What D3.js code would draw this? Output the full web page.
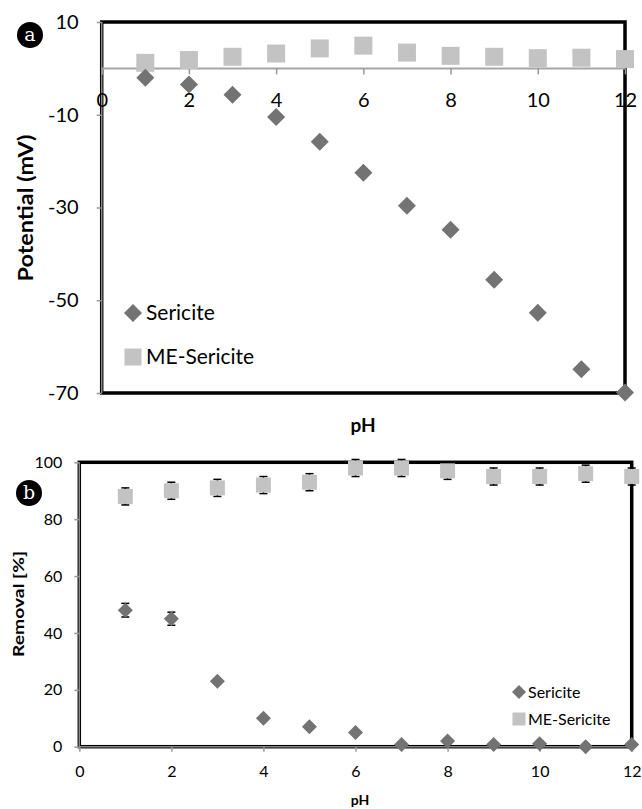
<!DOCTYPE html>
<html lang="en">
<head>
<meta charset="UTF-8">
<title>Zeta potential and removal vs pH</title>
<script src="https://d3js.org/d3.v7.min.js"></script>
<style>
  body { margin: 0; background: #fff; }
  svg text { font-family: Lato, "Open Sans", sans-serif; fill: #000; }
</style>
</head>
<body>
<div id="chart"></div>
<script>
// pH values shared by both panels
var phValues = [1, 2, 3, 4, 5, 6, 7, 8, 9, 10, 11, 12];

// panel a: zeta potential (mV)
var potSericite   = [-2, -3.5, -5.7, -10.5, -15.8, -22.5, -29.6, -34.8, -45.6, -52.7, -64.9, -69.9];
var potMeSericite = [1.2, 1.8, 2.5, 3.2, 4.3, 4.9, 3.4, 2.7, 2.5, 2.2, 2.3, 2.0];
var potYTicks = [10, -10, -30, -50, -70];

// panel b: removal (%) with error bars
var remSericite      = [48, 45, 23, 10, 7, 5, 0.8, 2, 0.8, 1, 0, 0.8];
var remSericiteErr   = [2.4, 2.3, 0, 0, 0, 0, 0, 0, 0, 0, 0, 0];
var remMeSericite    = [88, 90, 91, 92, 93, 98, 98, 97, 95, 95, 96, 95];
var remMeSericiteErr = [3, 3, 3, 3, 3, 3, 3, 3, 3, 3, 3, 3];
var remYTicks = [0, 20, 40, 60, 80, 100];

var xTicks = [0, 2, 4, 6, 8, 10, 12];
var seriesNames = ["Sericite", "ME-Sericite"];
var diamondColor = "#737373";
var squareColor = "#c3c3c3";

var svg = d3.select("#chart").append("svg")
    .attr("width", 642)
    .attr("height", 809);

function diamond(size) {
    return d3.symbol().type(d3.symbolSquare).size(size * size / 2)();
}
function square(size) {
    return d3.symbol().type(d3.symbolSquare).size(size * size)();
}

function badge(cx, cy, letter) {
    svg.append("circle").attr("cx", cx).attr("cy", cy).attr("r", 13).attr("fill", "#000");
    svg.append("text").attr("x", cx).attr("y", cy + 6)
        .attr("text-anchor", "middle")
        .style("font-family", "'DejaVu Serif', serif")
        .style("font-size", "19px")
        .style("fill", "#fff")
        .text(letter);
}

function styleAxis(g, fontSize) {
    g.select(".domain").remove();
    g.selectAll(".tick line").attr("stroke", "#999").attr("stroke-width", 1.5);
    g.selectAll(".tick text").style("font-size", fontSize + "px");
}

// plain hyphen for negatives, like the original
var plain = function(d) { return String(d); };

// ---------------- panel a ----------------
(function() {
    var x = d3.scaleLinear().domain([0, 12]).range([101.7, 625]);
    var y = d3.scaleLinear().domain([-70, 10]).range([393, 22]);
    var g = svg.append("g");

    // frame
    g.append("rect")
        .attr("x", x(0)).attr("y", y(10))
        .attr("width", x(12) - x(0)).attr("height", y(-70) - y(10))
        .attr("fill", "none").attr("stroke", "#000").attr("stroke-width", 3.5);
    g.append("line")
        .attr("x1", x(0)).attr("x2", x(0)).attr("y1", y(10)).attr("y2", y(-70))
        .attr("stroke", "#888").attr("stroke-width", 1.5);

    // y axis
    var ya = g.append("g").attr("transform", "translate(" + x(0) + ",0)")
        .call(d3.axisLeft(y).tickValues(potYTicks).tickFormat(plain).tickSize(5).tickPadding(18));
    styleAxis(ya, 20);

    // x axis at zero
    g.append("line")
        .attr("x1", x(0)).attr("x2", x(12)).attr("y1", y(0)).attr("y2", y(0))
        .attr("stroke", "#a6a6a6").attr("stroke-width", 2);
    var xa = g.append("g").attr("transform", "translate(0," + y(0) + ")")
        .call(d3.axisBottom(x).tickValues(xTicks).tickFormat(plain).tickSize(6).tickPadding(18));
    styleAxis(xa, 20);

    // ME-Sericite squares
    g.selectAll(".sq").data(potMeSericite).enter().append("path")
        .attr("d", square(18))
        .attr("transform", function(d, i) { return "translate(" + x(phValues[i]) + "," + y(d) + ")"; })
        .attr("fill", squareColor);

    // Sericite diamonds
    g.selectAll(".dm").data(potSericite).enter().append("path")
        .attr("d", diamond(18))
        .attr("transform", function(d, i) { return "translate(" + x(phValues[i]) + "," + y(d) + ") rotate(45)"; })
        .attr("fill", diamondColor);

    // legend
    g.append("path").attr("d", diamond(18)).attr("transform", "translate(133,313) rotate(45)").attr("fill", diamondColor);
    g.append("text").attr("x", 146).attr("y", 320).style("font-size", "21px").text(seriesNames[0]);
    g.append("path").attr("d", square(17)).attr("transform", "translate(133,357)").attr("fill", squareColor);
    g.append("text").attr("x", 146).attr("y", 364).style("font-size", "21px").text(seriesNames[1]);

    // titles
    g.append("text").attr("x", 363).attr("y", 432).attr("text-anchor", "middle")
        .style("font-size", "19px").style("font-weight", "bold").text("pH");
    g.append("text").attr("transform", "translate(33,208) rotate(-90)").attr("text-anchor", "middle")
        .style("font-size", "20px").style("font-weight", "bold")
        .attr("textLength", 147).attr("lengthAdjust", "spacingAndGlyphs")
        .text("Potential (mV)");

    badge(30, 35, "a");
})();

// ---------------- panel b ----------------
(function() {
    var x = d3.scaleLinear().domain([0, 12]).range([79.3, 631.7]);
    var y = d3.scaleLinear().domain([0, 100]).range([746.7, 462.3]);
    var g = svg.append("g");

    g.append("rect")
        .attr("x", x(0)).attr("y", y(100))
        .attr("width", x(12) - x(0)).attr("height", y(0) - y(100))
        .attr("fill", "none").attr("stroke", "#000").attr("stroke-width", 3.5);
    g.append("line")
        .attr("x1", x(0)).attr("x2", x(0)).attr("y1", y(100)).attr("y2", y(0))
        .attr("stroke", "#888").attr("stroke-width", 1.5);
    g.append("line")
        .attr("x1", x(0)).attr("x2", x(12)).attr("y1", y(0)).attr("y2", y(0))
        .attr("stroke", "#888").attr("stroke-width", 1.5);

    var ya = g.append("g").attr("transform", "translate(" + x(0) + ",0)")
        .call(d3.axisLeft(y).tickValues(remYTicks).tickFormat(plain).tickSize(5).tickPadding(12));
    styleAxis(ya, 16);
    var xa = g.append("g").attr("transform", "translate(0," + y(0) + ")")
        .call(d3.axisBottom(x).tickValues(xTicks).tickFormat(plain).tickSize(5).tickPadding(14));
    styleAxis(xa, 16);

    // error bars
    function errorBars(vals, errs) {
        var eb = g.append("g").attr("stroke", "#000").attr("stroke-width", 1.5);
        vals.forEach(function(v, i) {
            if (!errs[i]) return;
            var cx = x(phValues[i]);
            eb.append("line").attr("x1", cx).attr("x2", cx).attr("y1", y(v - errs[i])).attr("y2", y(v + errs[i]));
            eb.append("line").attr("x1", cx - 4).attr("x2", cx + 4).attr("y1", y(v - errs[i])).attr("y2", y(v - errs[i]));
            eb.append("line").attr("x1", cx - 4).attr("x2", cx + 4).attr("y1", y(v + errs[i])).attr("y2", y(v + errs[i]));
        });
    }
    errorBars(remMeSericite, remMeSericiteErr);
    errorBars(remSericite, remSericiteErr);

    g.selectAll(".sq").data(remMeSericite).enter().append("path")
        .attr("d", square(15))
        .attr("transform", function(d, i) { return "translate(" + x(phValues[i]) + "," + y(d) + ")"; })
        .attr("fill", squareColor);
    g.selectAll(".dm").data(remSericite).enter().append("path")
        .attr("d", diamond(15))
        .attr("transform", function(d, i) { return "translate(" + x(phValues[i]) + "," + y(d) + ") rotate(45)"; })
        .attr("fill", diamondColor);

    // legend
    g.append("path").attr("d", diamond(14)).attr("transform", "translate(519,692) rotate(45)").attr("fill", diamondColor);
    g.append("text").attr("x", 528).attr("y", 698).style("font-size", "16px").text(seriesNames[0]);
    g.append("path").attr("d", square(13)).attr("transform", "translate(519,719)").attr("fill", squareColor);
    g.append("text").attr("x", 528).attr("y", 725).style("font-size", "16px").text(seriesNames[1]);

    // titles
    g.append("text").attr("x", 360).attr("y", 805).attr("text-anchor", "middle")
        .style("font-size", "14px").style("font-weight", "bold").text("pH");
    g.append("text").attr("transform", "translate(24,604) rotate(-90)").attr("text-anchor", "middle")
        .style("font-size", "15px").style("font-weight", "bold")
        .attr("textLength", 106).attr("lengthAdjust", "spacingAndGlyphs")
        .text("Removal [%]");

    badge(29, 493, "b");
})();
</script>
</body>
</html>
